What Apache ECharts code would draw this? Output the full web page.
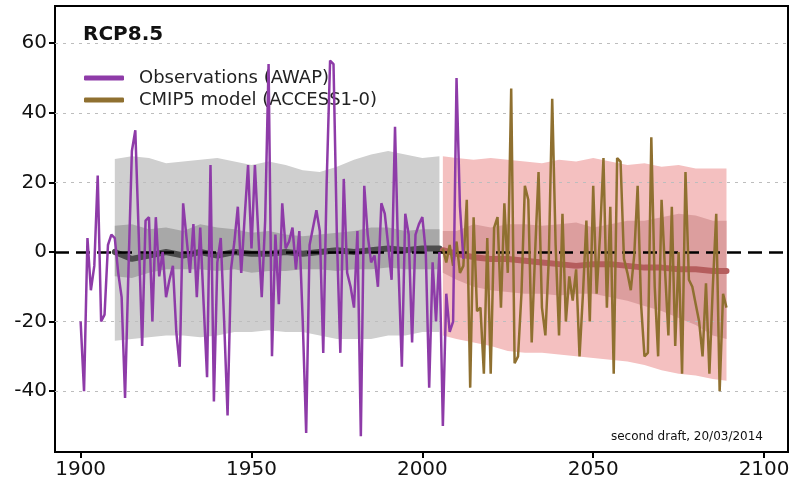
<!DOCTYPE html>
<html><head><meta charset="utf-8">
<script src="https://cdn.jsdelivr.net/npm/echarts@6/dist/echarts.min.js"></script>
<style>html,body{margin:0;padding:0;background:#fff}#c{width:790px;height:487px}</style>
</head><body><div id="c"></div>
<script>
// ---------- tick labels ----------
const xTickLabels = [1900, 1950, 2000, 2050, 2100];
const yTickLabels = [-40, -20, 0, 20, 40, 60];
const gridLevels = [-40, -20, 20, 40, 60];

// ---------- observations (AWAP), annual, 1900-2012 ----------
const obsStartYear = 1900;
const obsValues = [
  -20, -40, 4, -11, -4, 22, -20, -18, 2, 5,
  4, -6, -13, -42, -5, 29, 35, 5, -27, 9,
  10, -20, 10, -7, 0, -13, -8, -4, -23, -33,
  14, 4, -6, 8, -13, 7, -15, -36, 25, -43,
  -3, 4, -20, -47, -5, 3, 13, -6, 10, 25,
  1, 25, 5, -13, 9, 54, -30, 5, -15, 14,
  1, 3, 7, -5, 6, -20, -52, 2, 7, 12,
  6, -29, 20, 55, 54, 4, -29, 21, -6, -10,
  -16, 6, -53, 19, 5, -3, -1, -10, 14, 11,
  2, -8, 36, -4, -33, 11, 5, -26, 5, 8,
  10, 0, -39, -3, -20, 0, -50, -12, -23, -20,
  50, 13, -2
];

// ---------- CMIP5 model (ACCESS1-0), annual, 2006-2089 ----------
const modelStartYear = 2006;
const modelValues = [
  1, -3, 2, -4, 3, -6, -4, 15, -39, 10,
  -17, -16, -35, 4, -35, 7, 10, -16, 14, -6,
  47, -32, -30, -12, 19, 15, -26, 0, 23, -16,
  -24, -2, 44, 2, -24, 11, -20, -7, -14, -5,
  -30, -12, 9, -20, 19, -12, 5, 27, -16, 13,
  -35, 27, 26, -2, -6, -11, -1, 19, -15, -30,
  -29, 33, -10, -30, 15, -5, -24, 13, -27, 0,
  -35, 23, -8, -10, -15, -20, -30, -9, -35, -10,
  11, -40, -12, -16
];

// ---------- historical ensemble bands ----------
const histBandYears = [1910,1915,1920,1925,1930,1935,1940,1945,1950,1955,1960,1965,1970,1975,1980,1985,1990,1995,2000,2005];
const histOuterUpper = [26.7,27.5,27,25.5,26,26.5,27,26,25,26,25,23.5,23,24.5,26.5,28,29,28,27,27.5];
const histOuterLower = [-25.5,-25,-24.5,-24,-24,-24.5,-24,-23,-23,-22.5,-23,-23,-24,-25,-25,-25,-24,-24,-23,-23];
const histInnerUpper = [7.5,8,6.5,7,6,8,7,6.5,5.5,6,5,4.5,5,5.5,6,7,7,6,6.5,6.5];
const histInnerLower = [-7,-7.5,-6,-5,-5,-5,-5.5,-5,-6,-5.5,-5.5,-5,-5,-5.5,-5,-5,-4.5,-5,-5,-5];
const histMedian = [0,-2,-1,0,-1,0,-1,0,-0.5,-0.5,0,-0.5,0,0.5,0,0.5,1,0.5,1,1];

// ---------- RCP8.5 ensemble bands ----------
const futBandYears = [2006,2010,2015,2020,2025,2030,2035,2040,2045,2050,2055,2060,2065,2070,2075,2080,2085,2089];
const futOuterUpper = [27.5,27,26.5,27,26.5,26,25.5,26.5,26,27,26,25,25.5,24.5,25,24,24,24];
const futOuterLower = [-24,-25,-26,-27,-28.5,-29,-29,-29.5,-30,-30.5,-31,-31.5,-32.5,-34,-35,-35.5,-36.5,-37];
const futInnerUpper = [6,6,8,7,8,8,7.5,8,8.5,7,8,9,9,10,11,10.5,9,9];
const futInnerLower = [-6,-8,-10,-11,-11.5,-12,-12,-12.5,-12,-12,-13,-14,-15.5,-17,-19,-21,-24,-25];
const futMedian = [0.5,-0.5,-1.5,-2,-2,-2.5,-3,-3.5,-4,-3.5,-3.5,-4,-4.5,-4.5,-5,-5,-5.5,-5.5];

// ---------- helpers ----------
const FONT = 'DejaVu Sans';
function seq(start, vals) { return vals.map((v, i) => [start + i, v]); }
function pairs(years, vals) { return years.map((y, i) => [y, vals[i]]); }
function band(name, years, upper, lower, color, z) {
  return {
    type: 'custom', name: name, z: z, silent: true,
    data: [[years[0], upper[0]]],
    renderItem: function (params, api) {
      const pts = [];
      for (let i = 0; i < years.length; i++) pts.push(api.coord([years[i], upper[i]]));
      for (let i = years.length - 1; i >= 0; i--) pts.push(api.coord([years[i], lower[i]]));
      return { type: 'polygon', shape: { points: pts }, style: { fill: color } };
    }
  };
}

const chart = echarts.init(document.getElementById('c'), null, { renderer: 'canvas' });
chart.setOption({
  animation: false,
  backgroundColor: '#fff',
  title: {
    text: 'RCP8.5', left: 83, top: 25, padding: 0,
    textStyle: { fontFamily: FONT, fontWeight: 'bold', fontSize: 20, color: '#111' }
  },
  legend: {
    orient: 'vertical', left: 84, top: 69, padding: 0,
    itemWidth: 40, itemHeight: 5, itemGap: 4, icon: 'roundRect',
    data: ['Observations (AWAP)', 'CMIP5 model (ACCESS1-0)'],
    textStyle: { fontFamily: FONT, fontSize: 18, color: '#222', lineHeight: 18, padding: [0, 0, 0, 10] }
  },
  grid: { left: 55, right: 2, top: 6, bottom: 35, show: true, borderColor: '#000', borderWidth: 2,
          containLabel: false, outerBoundsMode: 'none' },
  xAxis: {
    type: 'value', min: 1892.5, max: 2107,
    axisLine: { show: true, onZero: false, lineStyle: { color: '#000', width: 2 } },
    axisTick: { show: true, customValues: xTickLabels, length: 6, lineStyle: { color: '#000', width: 2 } },
    axisLabel: { customValues: xTickLabels, fontFamily: FONT, fontSize: 20, color: '#111', margin: 8,
                 formatter: v => String(v) },
    splitLine: { show: false }
  },
  yAxis: {
    type: 'value', min: -57.5, max: 70.7,
    axisLine: { show: true, onZero: false, lineStyle: { color: '#000', width: 2 } },
    axisTick: { show: true, customValues: yTickLabels, length: 6, lineStyle: { color: '#000', width: 2 } },
    axisLabel: { customValues: yTickLabels, fontFamily: FONT, fontSize: 20, color: '#111', margin: 8,
                 formatter: v => String(v) },
    splitLine: { show: false }
  },
  graphic: [{
    type: 'text', right: 27, top: 431, silent: true,
    style: { text: 'second draft, 20/03/2014', font: '12px "DejaVu Sans"', fill: '#111' }
  }],
  series: [
    {
      name: 'gridlines', type: 'line', z: 1, silent: true, data: [[1900, 0]],
      showSymbol: false, lineStyle: { opacity: 0 },
      markLine: {
        silent: true, symbol: ['none', 'none'], label: { show: false },
        lineStyle: { type: [3, 5], color: '#bdbdbd', width: 1.2 },
        data: gridLevels.map(v => ({ yAxis: v }))
      }
    },
    band('histOuter', histBandYears, histOuterUpper, histOuterLower, '#cfcfcf', 2),
    band('futOuter', futBandYears, futOuterUpper, futOuterLower, '#f4c0c0', 2),
    band('histInner', histBandYears, histInnerUpper, histInnerLower, '#a8a8a8', 3),
    band('futInner', futBandYears, futInnerUpper, futInnerLower, '#dc9e9e', 3),
    {
      name: 'histMedian', type: 'line', z: 4, silent: true, showSymbol: false,
      data: pairs(histBandYears, histMedian), color: '#4d4d4d',
      lineStyle: { width: 6, color: '#4d4d4d', cap: 'round' }
    },
    {
      name: 'futMedian', type: 'line', z: 4, silent: true, showSymbol: false,
      data: pairs(futBandYears, futMedian), color: '#b55d5d',
      lineStyle: { width: 6, color: '#b55d5d', cap: 'round' }
    },
    {
      name: 'zero', type: 'line', z: 5, silent: true, data: [[1900, 0]],
      showSymbol: false, lineStyle: { opacity: 0 },
      markLine: {
        silent: true, symbol: ['none', 'none'], label: { show: false },
        lineStyle: { type: [14, 7], color: '#000', width: 2.5 },
        data: [{ yAxis: 0 }]
      }
    },
    {
      name: 'CMIP5 model (ACCESS1-0)', type: 'line', z: 6, showSymbol: false,
      data: seq(modelStartYear, modelValues), color: '#8f7030',
      lineStyle: { width: 2.5, color: '#8f7030' }
    },
    {
      name: 'Observations (AWAP)', type: 'line', z: 7, showSymbol: false,
      data: seq(obsStartYear, obsValues), color: '#8e3ba8',
      lineStyle: { width: 2.5, color: '#8e3ba8' }
    }
  ]
});
</script>
</body></html>
